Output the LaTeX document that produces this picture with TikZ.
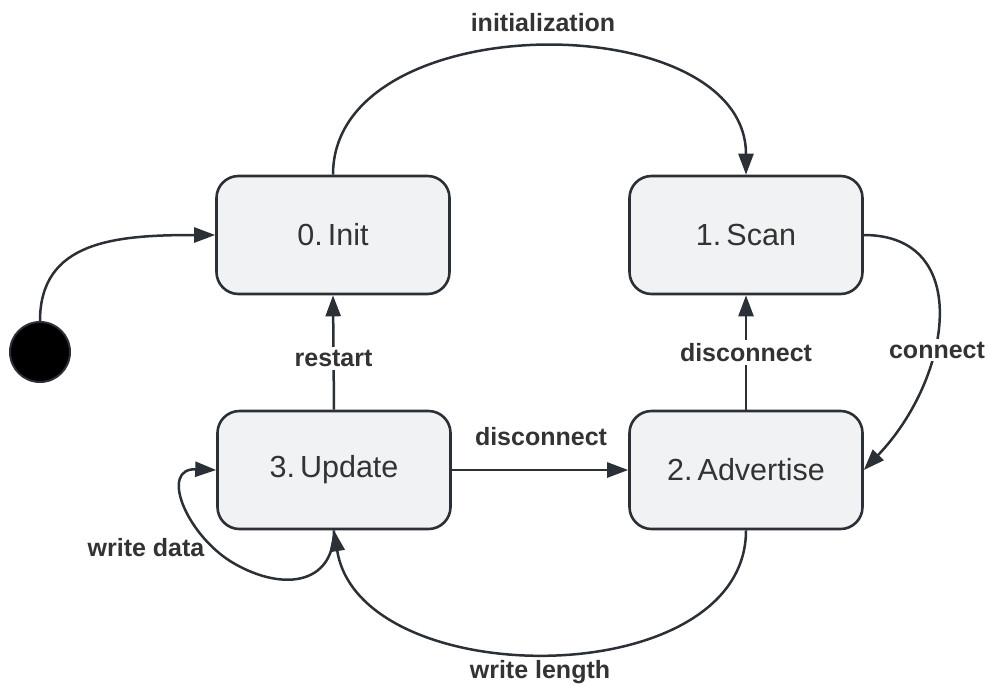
\documentclass[tikz,border=0pt]{standalone}
\usepackage{fontspec}
\setmainfont{Liberation Sans}
\usetikzlibrary{arrows.meta}
\definecolor{boxfill}{HTML}{F1F2F4}
\definecolor{ink}{HTML}{2B2F36}
\definecolor{txt}{HTML}{333333}
\tikzset{
  state/.style={draw=ink, line width=2.6pt, fill=boxfill, rounded corners=22pt,
    minimum width=233pt, minimum height=118pt, text=txt,
    font=\fontsize{30.5}{36}\selectfont},
  initial/.style={circle, draw=ink, line width=2pt, fill=black, minimum size=60pt, inner sep=0pt},
  trans/.style={draw=ink, line width=2.5pt, -{Triangle[length=21pt,width=15pt]}},
  lbl/.style={text=txt, font=\fontsize{25}{30}\selectfont\bfseries, inner sep=3pt},
  lblbg/.style={lbl, fill=white}
}
\begin{document}
\begin{tikzpicture}[x=1pt, y=-1pt]
  \useasboundingbox (0,0) rectangle (988,686);

  % states
  \node[state] (init)   at (333,235) {0.\,Init};
  \node[state] (scan)   at (746,235) {1.\,Scan};
  \node[state] (update) at (334,470) {3.\,Update};
  \node[state] (adv)    at (746,470) {2.\,Advertise};
  \node[initial] (start) at (40,352) {};

  % entry
  \draw[trans] (start.north) .. controls +(0,-80) and +(-100,0) .. (init.west);

  % initialization arc
  \draw[trans] (init.north) .. controls +(0,-170) and +(0,-170) .. (scan.north);
  \node[lbl] (initlbl) at (543,23) {initialization};

  % scan -> advertise
  \draw[trans] (scan.east) .. controls +(110,0) and +(88,-92) .. (adv.east);
  \node[lblbg] (connlbl) at (937,350) {connect};

  % advertise -> scan
  \draw[trans] (adv.north) -- node[lblbg] {disconnect} (scan.south);

  % update -> init
  \draw[trans] (update.north) -- node[lblbg, pos=0.45] {restart} (init.south);

  % update -> advertise
  \draw[trans] (update.east) -- (adv.west);
  \node[lbl] (disclbl) at (541,437) {disconnect};

  % advertise -> update
  \draw[trans] (adv.south) .. controls +(0,164) and (360,694) .. (update.south);
  \node[lbl] (lenlbl) at (540,672) {write length};

  % self loop on update
  \draw[trans] (update.south) .. controls +(0,56) and (280,592) .. (230,561)
    .. controls (185,532) and (160,468) .. (update.west);
  \node[lbl] (datalbl) at (146,548) {write data};
\end{tikzpicture}
\end{document}
